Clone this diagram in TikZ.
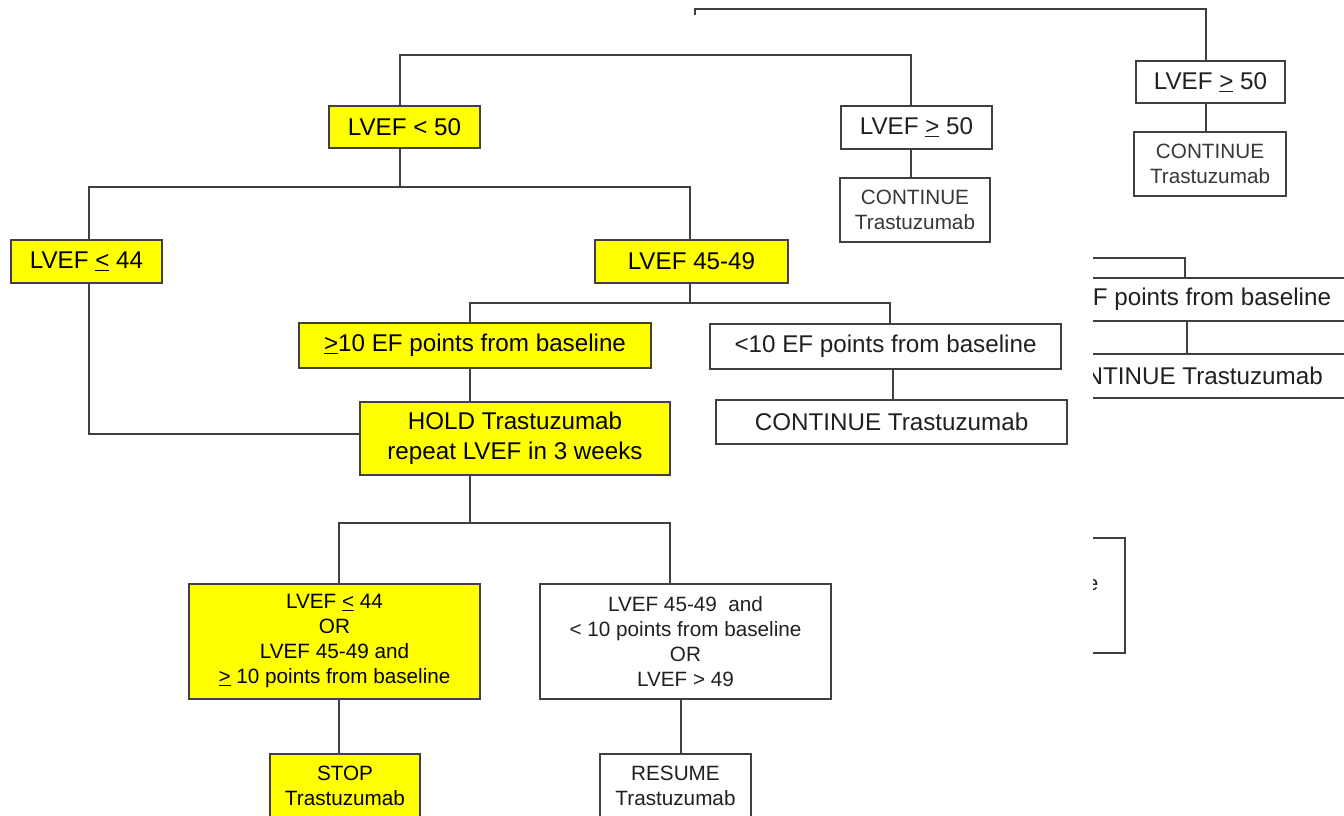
\documentclass[tikz,border=0pt]{standalone}
\usepackage{fontspec}
\setmainfont{Liberation Sans}
\definecolor{ln}{HTML}{404040}
\definecolor{yel}{HTML}{FFFF00}
\definecolor{txt}{HTML}{202020}
\definecolor{txtl}{HTML}{383838}
\tikzset{
  bx/.style={draw=ln, line width=1.4pt, inner sep=0pt, align=center, fill=white, text=txt,
    font=\fontsize{24.2}{30}\selectfont},
  ybx/.style={bx, fill=yel, text=black},
  sm/.style={font=\fontsize{20.7}{25}\selectfont},
  wire/.style={draw=ln, line width=1.4pt},
}
\begin{document}
\begin{tikzpicture}[x=1pt,y=-1pt]
\useasboundingbox (0,0) rectangle (1344,816);

% right-hand top branch
\node[bx, minimum width=149pt, minimum height=42pt] (ge50r) at (1210.5,82) {LVEF \underline{>} 50};
\node[bx, sm, text=txtl, minimum width=152pt, minimum height=64pt] (contr) at (1210,164) {CONTINUE\\Trastuzumab};

% level 1
\node[ybx, minimum width=151pt, minimum height=42pt] (lt50) at (404.5,127) {LVEF < 50};
\node[bx, minimum width=151pt, minimum height=43pt] (ge50) at (916.5,127.5) {LVEF \underline{>} 50};
\node[bx, sm, text=txtl, minimum width=150pt, minimum height=64pt] (cont1) at (915,210) {CONTINUE\\Trastuzumab};

% level 2
\node[ybx, minimum width=151pt, minimum height=43pt] (le44) at (86.5,261.5) {LVEF \underline{<} 44};
\node[ybx, minimum width=193pt, minimum height=43pt] (l4549) at (691.5,261.5) {LVEF 45-49};

% level 3
\node[ybx, minimum width=352pt, minimum height=45pt] (ge10) at (475,345.5) {\underline{>}10 EF points from baseline};
\node[bx, minimum width=351pt, minimum height=45pt] (lt10) at (885.5,346.5) {<10 EF points from baseline};
\node[bx, minimum width=351pt, minimum height=44pt] (cont2) at (891.5,422) {CONTINUE Trastuzumab};
\node[ybx, minimum width=310pt, minimum height=73pt] (hold) at (515,438.5) {HOLD Trastuzumab\\repeat LVEF in 3 weeks};

% level 4
\node[ybx, sm, minimum width=291pt, minimum height=115pt] (stopc) at (334.5,641.5)
  {LVEF \underline{<} 44\\OR\\LVEF 45-49 and\\\underline{>} 10 points from baseline};
\node[bx, sm, minimum width=291pt, minimum height=115pt] (resc) at (685.5,641.5)
  {LVEF 45-49\ \ and\\< 10 points from baseline\\OR\\LVEF > 49};
\node[ybx, sm, minimum width=150pt, minimum height=64pt] (stop) at (345,786) {STOP\\Trastuzumab};
\node[bx, sm, minimum width=151pt, minimum height=64pt] (resume) at (675.5,786) {RESUME\\Trastuzumab};

% connectors
\coordinate (tick) at (695,15);
\draw[wire] (tick) |- (1206,9) -- (1206,0 |- ge50r.north);
\draw[wire] (1206,0 |- ge50r.south) -- (1206,0 |- contr.north);
\draw[wire] (400,0 |- lt50.north) |- (911,55) -- (911,0 |- ge50.north);
\draw[wire] (911,0 |- ge50.south) -- (911,0 |- cont1.north);
\draw[wire] (400,0 |- lt50.south) -- (400,187);
\draw[wire] (89,0 |- le44.north) |- (690,187) -- (690,0 |- l4549.north);
\draw[wire] (690,0 |- l4549.south) -- (690,303);
\draw[wire] (470,0 |- ge10.north) |- (890,303) -- (890,0 |- lt10.north);
\draw[wire] (893,0 |- lt10.south) -- (893,0 |- cont2.north);
\draw[wire] (470,0 |- ge10.south) -- (470,0 |- hold.north);
\draw[wire] (89,0 |- le44.south) |- (hold.west |- 0,434);
\draw[wire] (470,0 |- hold.south) -- (470,523);
\draw[wire] (339,0 |- stopc.north) |- (670,523) -- (670,0 |- resc.north);
\draw[wire] (339,0 |- stopc.south) -- (339,0 |- stop.north);
\draw[wire] (681,0 |- resc.south) -- (681,0 |- resume.north);

% clipped ghost copy on the right
\begin{scope}
\clip (1093,0) rectangle (1344,816);
\node[bx, minimum width=351pt, minimum height=43pt] (lt10g) at (1180,299.5) {<10 EF points from baseline};
\node[bx, minimum width=351pt, minimum height=44pt] (cont2g) at (1186,376) {CONTINUE Trastuzumab};
\node[bx, sm, minimum width=285pt, minimum height=115pt] (rescg) at (982.5,595.5)
  {LVEF 45-49\ \ and\\< 10 points from baseline\\OR\\LVEF > 49};
\draw[wire] (1185,0 |- lt10g.north) |- (1000,258);
\draw[wire] (1187,0 |- lt10g.south) -- (1187,0 |- cont2g.north);
\end{scope}
\end{tikzpicture}
\end{document}
